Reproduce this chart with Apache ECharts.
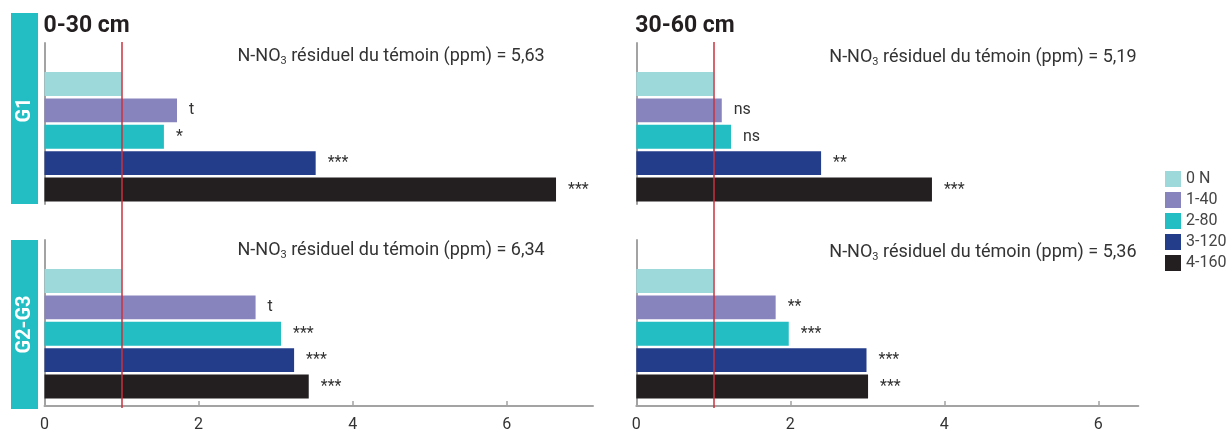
<!DOCTYPE html>
<html><head><meta charset="utf-8">
<script src="https://cdn.jsdelivr.net/npm/echarts@6/dist/echarts.min.js"></script>
<style>html,body{margin:0;padding:0;background:#fff}#c{width:1229px;height:433px}</style>
</head><body><div id="c"></div>
<script>
// ---- data ----
const treatments = ['0 N', '1-40', '2-80', '3-120', '4-160'];
const depths = ['0-30 cm', '30-60 cm'];
const groups = ['G1', 'G2-G3'];
const g1_0_30 = [1.00, 1.72, 1.55, 3.52, 6.64];
const g1_0_30_sig = ['', 't', '*', '***', '***'];
const g23_0_30 = [1.00, 2.74, 3.07, 3.24, 3.43];
const g23_0_30_sig = ['', 't', '***', '***', '***'];
const g1_30_60 = [1.00, 1.11, 1.23, 2.40, 3.84];
const g1_30_60_sig = ['', 'ns', 'ns', '**', '***'];
const g23_30_60 = [1.00, 1.81, 1.98, 2.99, 3.01];
const g23_30_60_sig = ['', '**', '***', '***', '***'];
const residual = [['5,63', '5,19'], ['6,34', '5,36']]; // [group][depth]
const xTicks = [0, 2, 4, 6];
const referenceLine = 1;

// ---- layout / style ----
const colors = ['#9dd8da', '#8784bd', '#22bec3', '#243d8b', '#231f20'];
const FONT = 'Roboto';
const TXT = '#333333';
const AXIS = '#a3a3a3';
const values = [[g1_0_30, g1_30_60], [g23_0_30, g23_30_60]];
const sigs = [[g1_0_30_sig, g1_30_60_sig], [g23_0_30_sig, g23_30_60_sig]];
const panels = [
  { left: 44.5, width: 548.5, max: 7.12 },
  { left: 636.3, width: 502, max: 6.52 }
];
const rows = [
  { frameTop: 43, frameH: 161, barTop: 72, barH: 129.5, noteTop: [45, 46] },
  { frameTop: 240, frameH: 168, barTop: 269, barH: 129.5, noteTop: [239, 241] }
];

const grid = [], xAxis = [], yAxis = [], series = [], title = [];
function addGrid(g, x, y) {
  grid.push(g); const i = grid.length - 1;
  xAxis.push(Object.assign({ gridIndex: i }, x));
  yAxis.push(Object.assign({ gridIndex: i }, y));
  return i;
}

panels.forEach((p, pi) => {
  title.push({ text: depths[pi], left: p.left - 1, top: 15, padding: 0,
    textStyle: { fontSize: 23, fontWeight: 'bold', color: '#231f20', fontFamily: FONT } });
  rows.forEach((r, ri) => {
    const isBottom = ri === rows.length - 1;
    // frame grid (axis lines)
    addGrid({ left: p.left, width: p.width, top: r.frameTop, height: r.frameH },
      { type: 'value', min: 0, max: p.max, show: isBottom,
        axisLine: { show: true, lineStyle: { color: AXIS, width: 2 } },
        axisTick: { show: true, inside: true, length: 5, lineStyle: { color: AXIS, width: 1.5 }, customValues: xTicks.filter(v => v > 0) },
        axisLabel: { show: true, customValues: xTicks, fontSize: 16, color: TXT, fontFamily: FONT, margin: 11 },
        splitLine: { show: false } },
      { type: 'category', data: [''], axisLine: { show: true, lineStyle: { color: AXIS, width: 2 } },
        axisTick: { show: false }, axisLabel: { show: false } });
    // bar grid
    const gi = addGrid({ left: p.left, width: p.width, top: r.barTop, height: r.barH },
      { type: 'value', min: 0, max: p.max, show: false },
      { type: 'category', data: [groups[ri]], show: false });
    treatments.forEach((t, ti) => {
      series.push({
        type: 'bar', name: t, xAxisIndex: gi, yAxisIndex: gi,
        barGap: '10%', barCategoryGap: 0,
        itemStyle: { color: colors[ti] },
        data: [values[ri][pi][ti]],
        label: { show: true, position: 'right', distance: 12, fontSize: 16, color: TXT, fontFamily: FONT,
          formatter: () => sigs[ri][pi][ti] },
        emphasis: { disabled: true }
      });
    });
    title.push({
      text: '{a|N-NO}{s|3}{a| résiduel du témoin (ppm) = ' + residual[ri][pi] + '}',
      left: p.left + 193, top: r.noteTop[pi], padding: 0,
      textStyle: { rich: {
        a: { fontSize: 18, fontWeight: 'normal', color: TXT, fontFamily: FONT, lineHeight: 22 },
        s: { fontSize: 11, fontWeight: 'normal', color: TXT, fontFamily: FONT, lineHeight: 10, verticalAlign: 'bottom' }
      } }
    });
  });
  // red reference line grid
  const rg = addGrid({ left: p.left, width: p.width, top: 42, height: 366 },
    { type: 'value', min: 0, max: p.max, show: false },
    { type: 'value', min: 0, max: 1, show: false });
  series.push({
    type: 'line', xAxisIndex: rg, yAxisIndex: rg, data: [], z: 10, silent: true,
    markLine: { silent: true, symbol: 'none', label: { show: false },
      lineStyle: { color: '#c8323c', width: 1.5, type: 'solid' },
      data: [{ xAxis: referenceLine }] }
  });
});

const option = {
  animation: false,
  backgroundColor: '#ffffff',
  title,
  grid, xAxis, yAxis, series,
  legend: {
    data: treatments, orient: 'vertical', left: 1165, top: 171, padding: 0,
    itemWidth: 16, itemHeight: 16, itemGap: 5, icon: 'rect',
    textStyle: { fontSize: 16, color: '#444', fontFamily: FONT }
  },
  graphic: [
    { type: 'rect', shape: { x: 11, y: 13, width: 27, height: 191 }, style: { fill: '#22bec3' } },
    { type: 'rect', shape: { x: 11, y: 240, width: 27, height: 169 }, style: { fill: '#22bec3' } },
    { type: 'text', x: 24.5, y: 110, rotation: Math.PI / 2,
      style: { text: groups[0], fill: '#fff', font: 'bold 20px Roboto', align: 'center', verticalAlign: 'middle' } },
    { type: 'text', x: 24.5, y: 324.5, rotation: Math.PI / 2,
      style: { text: groups[1], fill: '#fff', font: 'bold 20px Roboto', align: 'center', verticalAlign: 'middle' } }
  ]
};
const chart = echarts.init(document.getElementById('c'));
chart.setOption(option);
</script>
</body></html>
